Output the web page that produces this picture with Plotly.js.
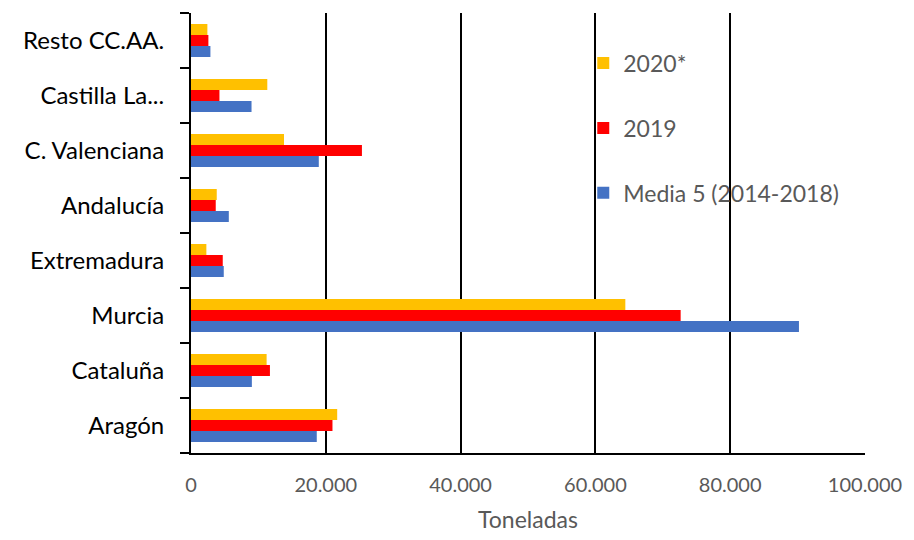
<!DOCTYPE html>
<html>
<head>
<meta charset="utf-8">
<script src="https://cdn.plot.ly/plotly-3.0.1.min.js"></script>
<style>body{margin:0;padding:0;background:#fff;}#chart{width:914px;height:540px;}</style>
</head>
<body>
<div id="chart"></div>
<script>
const categories = ["Aragón", "Cataluña", "Murcia", "Extremadura", "Andalucía", "C. Valenciana", "Castilla La...", "Resto CC.AA."];
const media5 = [18660, 9030, 90200, 4860, 5610, 18960, 8980, 2880];
const y2019 = [20990, 11710, 72650, 4710, 3670, 25360, 4220, 2580];
const y2020 = [21690, 11220, 64440, 2280, 3820, 13800, 11320, 2430];
const seriesNames = ["Media 5 (2014-2018)", "2019", "2020*"];
const xTicks = [0, 20000, 40000, 60000, 80000, 100000];

const colors = ["#4472C4", "#FF0000", "#FFC000"];
const ranks = [3, 2, 1];
const vals = [media5, y2019, y2020];
const traces = vals.map((v, i) => ({
  type: "bar", orientation: "h", name: seriesNames[i], x: v, y: categories,
  marker: {color: colors[i]}, legendgroup: "g" + i, legendrank: ranks[i], hoverinfo: "x+name"
}));

const layout = {
  width: 914, height: 540,
  margin: {l: 191, r: 49, t: 13, b: 87},
  paper_bgcolor: "#fff", plot_bgcolor: "#fff",
  separators: ",.",
  barmode: "group", bargap: 0.4, bargroupgap: 0,
  font: {family: "Lato, 'Open Sans', sans-serif", color: "#595959"},
  xaxis: {
    range: [0, 100000], tickvals: xTicks, tickformat: ",d",
    showgrid: true, gridcolor: "#000", gridwidth: 2,
    zeroline: false, showline: true, linecolor: "#000", linewidth: 2,
    ticks: "", tickfont: {size: 20, color: "#595959"}, ticklabelstandoff: 13,
    title: {text: "Toneladas", font: {size: 23, color: "#595959"}, standoff: 17}
  },
  yaxis: {
    type: "category", categoryorder: "array", categoryarray: categories,
    showline: true, linecolor: "#000", linewidth: 2, showgrid: false, zeroline: false,
    ticks: "outside", tickson: "boundaries", ticklen: 9, tickwidth: 2, tickcolor: "#000",
    tickfont: {size: 24, color: "#000"}, ticklabelstandoff: 20
  },
  legend: {
    x: 0.582, y: 0.935, xanchor: "left", yanchor: "top",
    traceorder: "grouped", tracegroupgap: 32,
    font: {size: 23, color: "#595959"}, bgcolor: "rgba(0,0,0,0)"
  },
  showlegend: true
};

Plotly.newPlot("chart", traces, layout, {displayModeBar: false, staticPlot: true});
</script>
</body>
</html>
